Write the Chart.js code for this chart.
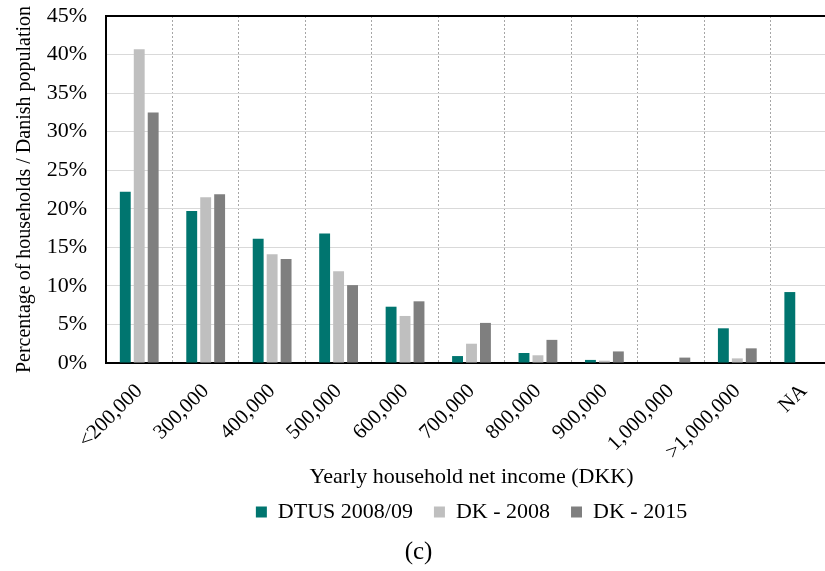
<!DOCTYPE html>
<html>
<head>
<meta charset="utf-8">
<script src="https://cdn.jsdelivr.net/npm/chart.js@4.4.0/dist/chart.umd.min.js"></script>
<style>
  html, body { margin: 0; padding: 0; background: #fff; overflow: hidden; }
  #wrap { width: 840px; height: 571px; }
</style>
</head>
<body>
<div id="wrap"><canvas id="chart_bars"></canvas></div>
<script>
// categorias de ingreso
const labels_income = ["<200,000", "300,000", "400,000", "500,000", "600,000", "700,000",
	"800,000", "900,000", "1,000,000", ">1,000,000", "NA"];

// porcentajes
const data_dtus = [22.2, 19.7, 16.1, 16.8, 7.3, 0.9, 1.3, 0.4, 0, 4.5, 9.2];
const data_dk2008 = [40.7, 21.5, 14.1, 11.9, 6.1, 2.5, 1.0, 0.3, 0, 0.6, null];
const data_dk2015 = [32.5, 21.9, 13.5, 10.1, 8.0, 5.2, 3.0, 1.5, 0.7, 1.9, null];

const y_ticks = [0, 5, 10, 15, 20, 25, 30, 35, 40, 45];

const serif = "'Liberation Serif', 'Times New Roman', serif";
Chart.defaults.font.family = serif;
Chart.defaults.color = "#000";

const ctx = document.getElementById("chart_bars").getContext("2d");

let chart_bars = new Chart(ctx, {
	type: "bar",
	data: {
		labels: labels_income,
		datasets: [
			{
				label: "DTUS 2008/09",
				data: data_dtus,
				backgroundColor: "#00756f",
			},
			{
				label: "DK - 2008",
				data: data_dk2008,
				backgroundColor: "#bfbfbf",
			},
			{
				label: "DK - 2015",
				data: data_dk2015,
				backgroundColor: "#7f7f7f",
			}
		],
	},
	options: {
		responsive: true,
		maintainAspectRatio: false,
		animation: false,
		categoryPercentage: 0.63,
		barPercentage: 0.78,
		layout: { padding: { top: 3, right: 3, left: 0, bottom: 4 } },
		plugins: {
			legend: {
				position: "bottom",
				fullSize: false,
				labels: {
					boxWidth: 11,
					boxHeight: 11,
					padding: 21,
					font: { size: 22 },
					color: "#000",
				},
			},
			title: {
				display: true,
				position: "bottom",
				text: "(c)",
				font: { size: 25, weight: "normal" },
				padding: { top: 4, bottom: 0 },
			},
			tooltip: { enabled: false },
		},
		scales: {
			x: {
				afterFit: (scale) => {
					scale.height = 117; // espacio para etiquetas rotadas + titulo
				},
				grid: {
					color: "#a6a6a6",
					lineWidth: 1,
					drawTicks: false,
				},
				border: { color: "#000", width: 2, dash: [2, 2] },
				ticks: {
					minRotation: 45,
					maxRotation: 45,
					padding: 16,
					font: { size: 21 },
				},
				title: {
					display: true,
					text: "Yearly household net income (DKK)",
					font: { size: 22 },
					padding: { top: 0, bottom: -10 },
				},
			},
			y: {
				min: 0,
				max: 45,
				afterBuildTicks: (axis) => {
					axis.ticks = y_ticks.map(v => ({ value: v }));
				},
				afterFit: (scale) => {
					scale.width = 106;
					scale.paddingTop = 16;
					scale.paddingBottom = 13;
				},
				grid: {
					color: (c) => (c.tick && c.tick.value === 45 ? "#000" : "#d9d9d9"),
					lineWidth: (c) => (c.tick && c.tick.value === 45 ? 2 : 1),
					drawTicks: false,
				},
				border: { color: "#000", width: 2 },
				ticks: {
					padding: 19,
					font: { size: 22 },
					callback: (v) => v + "%",
				},
				title: {
					display: true,
					text: "Percentage of households / Danish population",
					font: { size: 20 },
					padding: { top: 13, bottom: 0 },
				},
			},
		},
	},
});
</script>
</body>
</html>
